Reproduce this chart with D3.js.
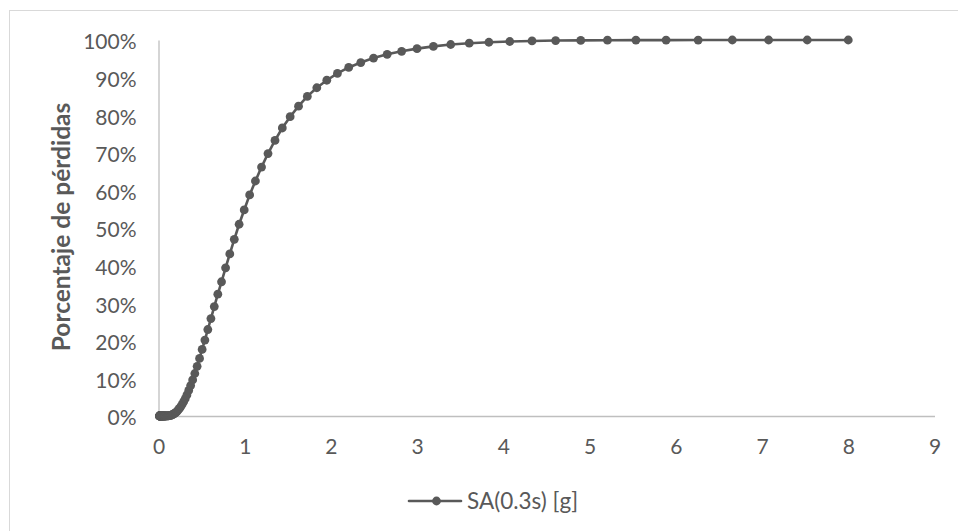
<!DOCTYPE html>
<html>
<head>
<meta charset="utf-8">
<script src="https://cdn.jsdelivr.net/npm/d3@7"></script>
<style>
html,body{margin:0;padding:0;background:#fff;}
svg{display:block;}
text{font-family:Lato,"Open Sans",sans-serif;}
</style>
</head>
<body>
<svg id="chart" width="958" height="531"></svg>
<script>
// Spectral acceleration SA(0.3s) [g]
const saValues = [
  0.0100,0.0106,0.0113,0.0120,0.0128,0.0136,0.0144,0.0154,0.0164,0.0174,
  0.0185,0.0196,0.0209,0.0222,0.0236,0.0251,0.0267,0.0284,0.0302,0.0321,
  0.0341,0.0362,0.0385,0.0410,0.0435,0.0463,0.0492,0.0523,0.0557,0.0592,
  0.0629,0.0669,0.0711,0.0756,0.0804,0.0855,0.0909,0.0967,0.1028,0.1093,
  0.1162,0.1235,0.1314,0.1397,0.1485,0.1579,0.1679,0.1785,0.1898,0.2018,
  0.2146,0.2282,0.2426,0.2580,0.2743,0.2916,0.3101,0.3297,0.3505,0.3727,
  0.396,0.421,0.448,0.476,0.506,0.538,0.572,0.608,0.647,0.688,
  0.731,0.778,0.827,0.879,0.935,0.994,1.057,1.124,1.195,1.270,
  1.351,1.436,1.527,1.624,1.726,1.836,1.952,2.075,2.206,2.346,
  2.494,2.652,2.820,2.998,3.188,3.389,3.604,3.832,4.074,4.332,
  4.606,4.897,5.207,5.537,5.887,6.259,6.655,7.076,7.524,8.000
];
// Porcentaje de pérdidas (%)
const lossValues = [
  0,0,0,0,0,0,0,0,0,0,
  0,0,0,0,0,0,0,0,0,0,
  0,0,0,0,0,0,0,0,0,0,
  0,0,0,0,0,0.01,0.02,0.03,0.04,0.05,
  0.07,0.10,0.13,0.18,0.24,0.33,0.43,0.57,0.74,0.96,
  1.2,1.6,2.0,2.5,3.1,3.8,4.6,5.6,6.8,8.1,
  9.6,11.3,13.2,15.3,17.7,20.2,23.0,25.9,29.1,32.4,
  35.7,39.4,43.1,47.0,51.0,54.8,58.8,62.5,66.2,69.8,
  73.3,76.6,79.6,82.4,85.0,87.3,89.3,91.1,92.7,94.0,
  95.2,96.2,97.0,97.7,98.3,98.8,99.15,99.4,99.6,99.75,
  99.85,99.9,99.95,99.97,99.98,99.99,100,100,100,100
];
const xTicks = [0,1,2,3,4,5,6,7,8,9];
const yTicks = [0,10,20,30,40,50,60,70,80,90,100];
const seriesName = "SA(0.3s) [g]";
const yTitle = "Porcentaje de pérdidas";

const data = saValues.map((x,i)=>({x, y: lossValues[i]}));

const svg = d3.select("#chart");
const textColor = "#595959";
const lineColor = "#595959";

// chart border
svg.append("rect")
  .attr("x",9.5).attr("y",10.5)
  .attr("width",958).attr("height",531)
  .attr("fill","none").attr("stroke","#d9d9d9").attr("stroke-width",1);

const x = d3.scaleLinear().domain([0,9]).range([158.5,934.5]);
const y = d3.scaleLinear().domain([0,100]).range([416,40]);

// y axis
const yAxis = d3.axisLeft(y).tickValues(yTicks).tickSize(0).tickPadding(22)
  .tickFormat(d=>d+"%");
const gy = svg.append("g").attr("transform",`translate(${x(0)},0)`).call(yAxis);
gy.select(".domain").attr("stroke","#bfbfbf").attr("stroke-width",1.3);
gy.selectAll("text").attr("fill",textColor).attr("font-size",21)
  .attr("font-family","Lato").attr("dy","0.42em");

// x axis
const xAxis = d3.axisBottom(x).tickValues(xTicks).tickSize(0).tickPadding(25)
  .tickFormat(d3.format("d"));
const gx = svg.append("g").attr("transform",`translate(0,${y(0)})`).call(xAxis);
gx.select(".domain").attr("stroke","#bfbfbf").attr("stroke-width",1.3);
gx.selectAll("text").attr("fill",textColor).attr("font-size",21)
  .attr("font-family","Lato").attr("dy","0.6em");

// y title
svg.append("text")
  .attr("transform",`translate(70,227) rotate(-90)`)
  .attr("text-anchor","middle")
  .attr("fill",textColor).attr("font-size",24.5).attr("font-weight","bold")
  .text(yTitle);

// line
const line = d3.line().x(d=>x(d.x)).y(d=>y(d.y));
svg.append("path").datum(data)
  .attr("d",line).attr("fill","none")
  .attr("stroke",lineColor).attr("stroke-width",2.6)
  .attr("stroke-linejoin","round").attr("stroke-linecap","round");

svg.append("g").selectAll("circle").data(data).join("circle")
  .attr("cx",d=>x(d.x)).attr("cy",d=>y(d.y)).attr("r",4.4)
  .attr("fill",lineColor);

// legend
const lg = svg.append("g").attr("transform","translate(409,501)");
lg.append("line").attr("x1",0).attr("x2",52).attr("y1",0).attr("y2",0)
  .attr("stroke",lineColor).attr("stroke-width",2.6).attr("stroke-linecap","round");
lg.append("circle").attr("cx",27.5).attr("cy",0).attr("r",4.4).attr("fill",lineColor);
lg.append("text").attr("x",58).attr("y",0).attr("dy","0.36em")
  .attr("fill",textColor).attr("font-size",22.5).text(seriesName);
</script>
</body>
</html>
